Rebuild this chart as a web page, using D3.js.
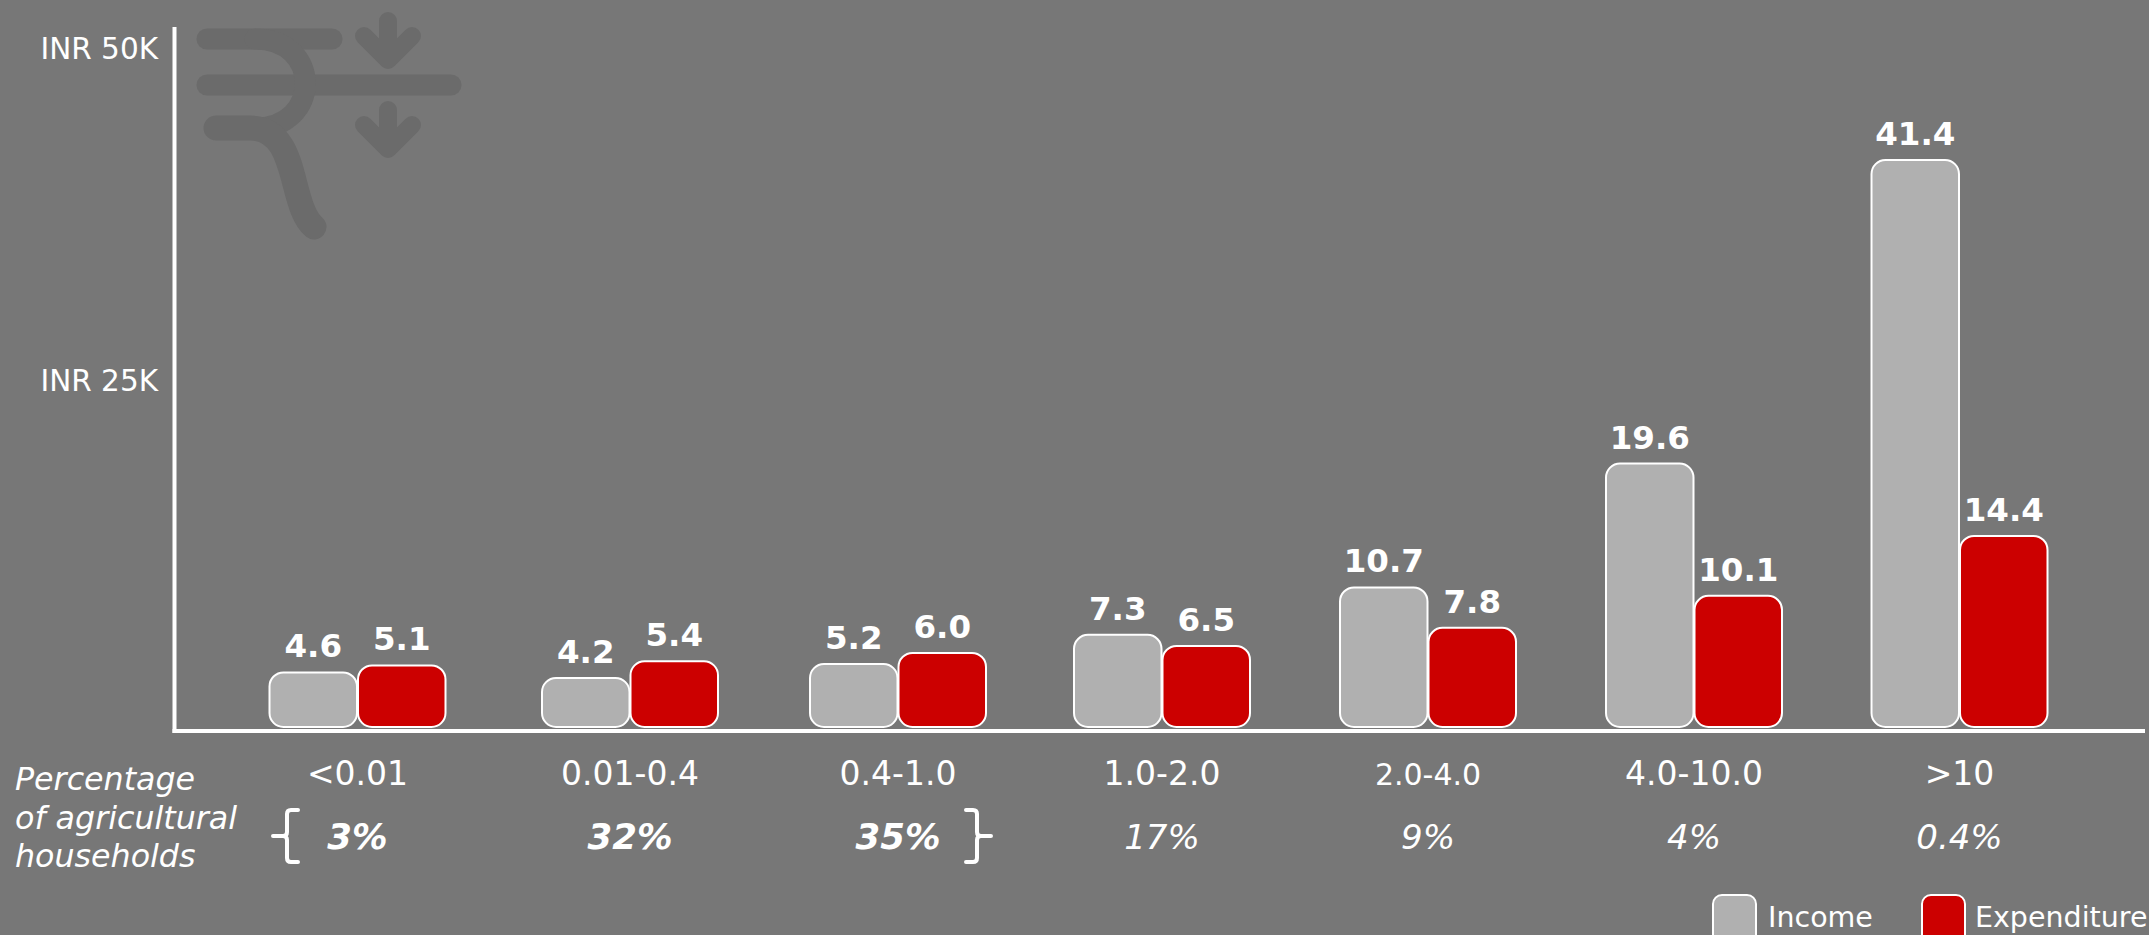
<!DOCTYPE html>
<html><head><meta charset="utf-8">
<script src="https://cdn.jsdelivr.net/npm/d3@7"></script>
<style>html,body{margin:0;padding:0;background:#777777}svg{display:block}text{font-family:"DejaVu Sans",sans-serif;fill:#fff}</style>
</head><body><svg id="c" width="2149" height="935"></svg>
<script>
const categories=["<0.01","0.01-0.4","0.4-1.0","1.0-2.0","2.0-4.0","4.0-10.0",">10"];
const income=[4.6,4.2,5.2,7.3,10.7,19.6,41.4];
const expenditure=[5.1,5.4,6.0,6.5,7.8,10.1,14.4];
const shares=["3%","32%","35%","17%","9%","4%","0.4%"];
const boldShares=[true,true,true,false,false,false,false];
const yTicks=[25,50];
const seriesNames=["Income","Expenditure"];
const seriesColors=["#b0b0b0","#cc0000"];
const labelLines=["Percentage","of agricultural","households"];

const svg=d3.select("#c");
const W=2149,H=935,base=727,barW=88.5;
const x=d3.scaleOrdinal().domain(categories).range([357.5,630,898,1162,1428,1694,1959.5]);
const y=d3.scaleLinear().domain([0.68,41.4]).range([base,160]);
const yTickScale=d3.scaleLinear().domain([25,50]).range([381,49.5]);

// watermark icon
const ic=svg.append("g").attr("fill","none").attr("stroke","#6b6b6b").attr("stroke-linecap","round").attr("stroke-linejoin","round").attr("stroke-width",21);
ic.append("path").attr("d","M207 39H332");
ic.append("path").attr("d","M207 85H451");
ic.append("path").attr("d","M216 128H255C322 128 322 39 255 39");
ic.append("path").attr("d","M216 128H250C300 128 288 205 314 227").attr("stroke-width",25);
ic.append("path").attr("d","M388 21V58M364 36L388 60L412 36").attr("stroke-width",18);
ic.append("path").attr("d","M388 110V147M364 125L388 149L412 125").attr("stroke-width",18);

// axes
svg.append("line").attr("x1",174.5).attr("x2",174.5).attr("y1",27).attr("y2",733).attr("stroke","#fff").attr("stroke-width",4);
svg.append("line").attr("x1",172.5).attr("x2",2145).attr("y1",731).attr("y2",731).attr("stroke","#fff").attr("stroke-width",4);

const yAxis=d3.axisLeft(yTickScale).tickValues(yTicks).tickSize(0).tickPadding(0).tickFormat(d=>`INR ${d}K`);
const ya=svg.append("g").attr("transform","translate(158,0)").call(yAxis);
ya.select(".domain").remove();
ya.selectAll("text").attr("font-size",29.5).attr("font-family",'"DejaVu Sans",sans-serif');

// bars
const series=[{vals:income,c:seriesColors[0],dx:-barW},{vals:expenditure,c:seriesColors[1],dx:0}];
series.forEach(s=>{
  const g=svg.append("g");
  g.selectAll("rect").data(s.vals).join("rect")
    .attr("x",(d,i)=>x(categories[i])+s.dx+0.5).attr("y",d=>y(d))
    .attr("width",barW-1).attr("height",d=>base-y(d)).attr("rx",14)
    .attr("fill",s.c).attr("stroke","#fff").attr("stroke-width",2);
  g.selectAll("text").data(s.vals).join("text")
    .attr("x",(d,i)=>x(categories[i])+s.dx+barW/2).attr("y",d=>y(d)-15)
    .attr("text-anchor","middle").attr("font-size",32.5).attr("font-weight","bold")
    .text(d=>d.toFixed(1));
});

// categories and shares
svg.append("g").selectAll("text").data(categories).join("text")
  .attr("x",d=>x(d)).attr("y",785).attr("text-anchor","middle")
  .attr("font-size",d=>d==="2.0-4.0"?30:33).text(d=>d);
svg.append("g").selectAll("text").data(shares).join("text")
  .attr("x",(d,i)=>x(categories[i])).attr("y",849).attr("text-anchor","middle")
  .attr("font-size",(d,i)=>boldShares[i]?35.5:34).attr("font-style","italic")
  .attr("font-weight",(d,i)=>boldShares[i]?"bold":"normal").text(d=>d);

svg.append("g").selectAll("text").data(labelLines).join("text")
  .attr("x",15).attr("y",(d,i)=>790+i*38.5).attr("font-size",31.7).attr("font-style","italic").text(d=>d);

// braces
const br=svg.append("g").attr("fill","none").attr("stroke","#fff").attr("stroke-width",4).attr("stroke-linecap","round");
br.append("path").attr("d","M298 810H291Q287 810 287 814V832Q287 836 283 836H273M283 836Q287 836 287 840V858Q287 862 291 862H298");
br.append("path").attr("d","M966 810H973Q977 810 977 814V832Q977 836 981 836H991M981 836Q977 836 977 840V858Q977 862 973 862H966");

// legend
const lg=svg.append("g");
const lx=[1713,1922],tx=[1768,1975];
seriesNames.forEach((n,i)=>{
  lg.append("rect").attr("x",lx[i]).attr("y",895).attr("width",43).attr("height",52).attr("rx",9).attr("fill",seriesColors[i]).attr("stroke","#fff").attr("stroke-width",2);
  lg.append("text").attr("x",tx[i]).attr("y",927).attr("font-size",28.5).text(n);
});
</script></body></html>
